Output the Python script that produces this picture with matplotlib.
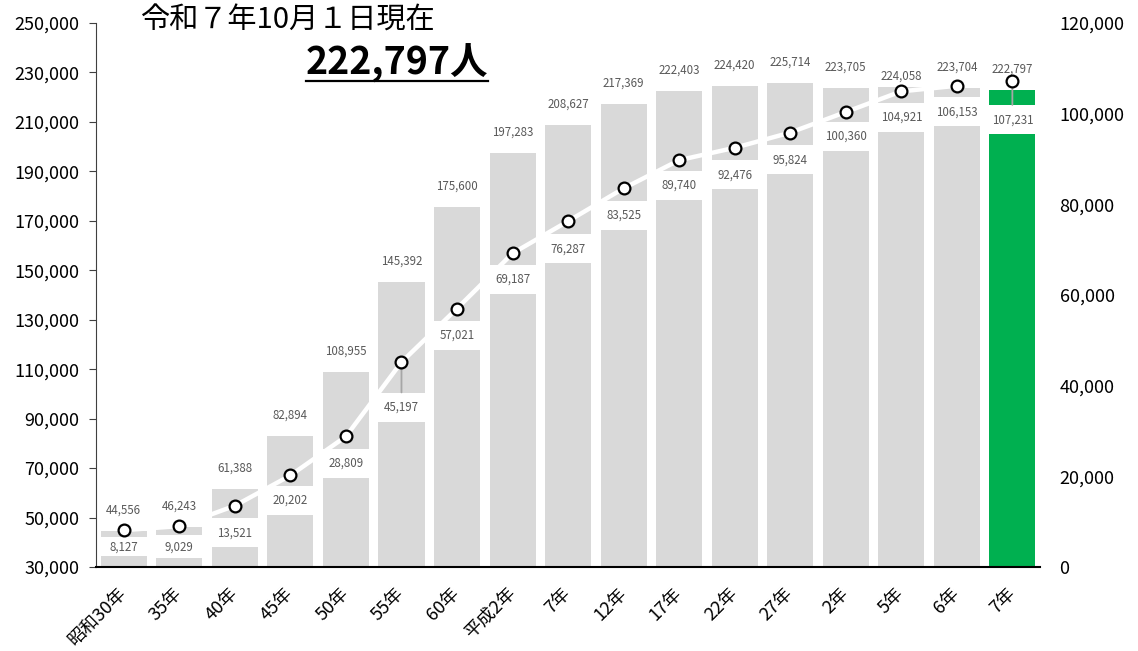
#!/usr/bin/env python3
import matplotlib
matplotlib.use("Agg")
import matplotlib.pyplot as plt
from matplotlib.patches import Rectangle
from matplotlib.lines import Line2D
from matplotlib.ticker import FuncFormatter

plt.rcParams['font.family'] = ['Noto Sans CJK JP', 'DejaVu Sans']

years = ['昭和30年', '35年', '40年', '45年', '50年', '55年', '60年', '平成2年', '7年',
         '12年', '17年', '22年', '27年', '2年', '5年', '6年', '7年']
population = [44556, 46243, 61388, 82894, 108955, 145392, 175600, 197283, 208627,
              217369, 222403, 224420, 225714, 223705, 224058, 223704, 222797]
households = [8127, 9029, 13521, 20202, 28809, 45197, 57021, 69187, 76287,
              83525, 89740, 92476, 95824, 100360, 104921, 106153, 107231]
title_date = '令和７年10月１日現在'
title_total = '222,797人'

# label placement (points below / above the mark), tuned by eye
hh_off = [12, 15, 19.5, 18, 19.5, 32.5, 19.5, 18.7, 20, 19.5, 18, 19.5, 19.5, 17.3, 18.7, 18.7, 28]
band_px = [19, 23] + [29] * 15
pop_off = [15] * len(years)
pop_off[14] = 8
leaders = {1, 5, 16}

gray = '#d9d9d9'
green = '#00b050'
txt = '#595959'

fig = plt.figure(figsize=(11.38, 6.51), dpi=100)
ax = fig.add_axes([0.0844, 0.129, 0.8296, 0.8357])
ax2 = ax.twinx()

x = list(range(len(years)))
colors = [gray] * (len(years) - 1) + [green]
ax.bar(x, [p - 30000 for p in population], bottom=30000, width=0.83, color=colors, zorder=1)

ax.set_xlim(-0.5, len(years) - 0.5)
ax.set_ylim(30000, 250000)
ax.set_yticks(range(30000, 250001, 20000))
ax2.set_ylim(0, 120000)
ax2.set_yticks(range(0, 120001, 20000))
fmt = FuncFormatter(lambda v, p: f'{int(v):,}')
ax.yaxis.set_major_formatter(fmt)
ax2.yaxis.set_major_formatter(fmt)

for s in ['top', 'right']:
    ax.spines[s].set_visible(False)
for s in ['top', 'right', 'left', 'bottom']:
    ax2.spines[s].set_visible(False)
ax.spines['left'].set_color('#404040')
ax.spines['left'].set_linewidth(0.8)
ax.spines['bottom'].set_color('black')
ax.spines['bottom'].set_linewidth(1.5)

ax.tick_params(axis='y', labelsize=13, length=5, width=0.8, color='#404040', pad=7)
ax2.tick_params(axis='y', labelsize=13, length=0, pad=14)
ax.set_xticks(x)
ax.set_xticklabels(years, rotation=45, ha='right', va='center', rotation_mode='anchor', fontsize=13)
ax.tick_params(axis='x', length=0, pad=17)

# white label boxes cutting through the bars
ax_h = ax.get_position().height * fig.get_figheight() * fig.dpi
dpp = 120000 / ax_h
for i, h in enumerate(households):
    yc = h - hh_off[i] * fig.dpi / 72 * dpp
    ax2.add_patch(Rectangle((i - 0.46, yc - band_px[i] / 2 * dpp), 0.92, band_px[i] * dpp,
                            facecolor='white', edgecolor='none', zorder=2))

ax2.plot(x, households, color='white', lw=3.2, zorder=3, solid_capstyle='round')
ax2.plot(x, households, ls='none', marker='o', ms=8.5, mfc='white', mec='black', mew=1.6, zorder=6)

for i, h in enumerate(households):
    arrow = None
    if i in leaders:
        arrow = dict(arrowstyle='-', color='#a6a6a6', lw=1.3, shrinkA=4, shrinkB=5)
    ax2.annotate(f'{h:,}', xy=(i, h), xytext=(0, -hh_off[i]), textcoords='offset points',
                 ha='center', va='center', fontsize=8.3, color=txt, zorder=5, arrowprops=arrow)

for i, p in enumerate(population):
    ax.annotate(f'{p:,}', xy=(i, p), xytext=(0, pop_off[i]), textcoords='offset points',
                ha='center', va='center', fontsize=8.3, color=txt, zorder=5)

fig.text(0.123, 0.968, title_date, fontsize=21, ha='left', va='center', color='black')
t = fig.text(0.349, 0.903, title_total, fontsize=27, fontweight='bold', ha='center',
             va='center', color='black')

fig.canvas.draw()
bb = t.get_window_extent(fig.canvas.get_renderer())
inv = fig.transFigure.inverted()
(x0, y0), (x1, _) = inv.transform([(bb.x0, bb.y0 + 2), (bb.x1, bb.y0)])
fig.add_artist(Line2D([x0, x1], [y0, y0], color='black', lw=1.6, transform=fig.transFigure))

fig.savefig('out.png', dpi=100)
